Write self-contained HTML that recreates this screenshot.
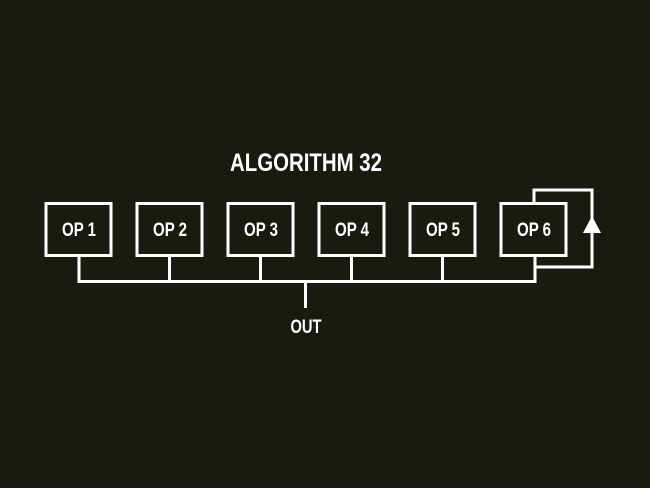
<!DOCTYPE html>
<html><head><style>
html,body{margin:0;padding:0;background:#1b1a11;}
svg{display:block}
text{font-family:"Liberation Sans",sans-serif;font-weight:bold;fill:#fff}
</style></head><body>
<svg width="650" height="488" viewBox="0 0 650 488" xmlns="http://www.w3.org/2000/svg">
<rect width="650" height="488" fill="#1b1a11"/>
<text x="306" y="171" font-size="25" text-anchor="middle" textLength="152" lengthAdjust="spacingAndGlyphs">ALGORITHM 32</text>
<g fill="none" stroke="#fff" stroke-width="3">
<rect x="46" y="203.5" width="65" height="52"/>
<rect x="137" y="203.5" width="65" height="52"/>
<rect x="228" y="203.5" width="65" height="52"/>
<rect x="319" y="203.5" width="65" height="52"/>
<rect x="410" y="203.5" width="65" height="52"/>
<rect x="501" y="203.5" width="65" height="52"/>
<polyline points="79,255 79,281.5 535,281.5 535,255"/>
<line x1="169.5" y1="255" x2="169.5" y2="281.5"/>
<line x1="260.5" y1="255" x2="260.5" y2="281.5"/>
<line x1="351.5" y1="255" x2="351.5" y2="281.5"/>
<line x1="442.5" y1="255" x2="442.5" y2="281.5"/>
<line x1="305.5" y1="281.5" x2="305.5" y2="308"/>
<polyline points="534,203.5 534,190 592,190 592,267 535,267"/>
</g>
<polygon points="592,216 583,233 601,233" fill="#fff"/>
<g font-size="19" text-anchor="middle">
<text x="79" y="236" textLength="34" lengthAdjust="spacingAndGlyphs">OP 1</text>
<text x="170" y="236" textLength="34" lengthAdjust="spacingAndGlyphs">OP 2</text>
<text x="261" y="236" textLength="34" lengthAdjust="spacingAndGlyphs">OP 3</text>
<text x="352" y="236" textLength="34" lengthAdjust="spacingAndGlyphs">OP 4</text>
<text x="443" y="236" textLength="34" lengthAdjust="spacingAndGlyphs">OP 5</text>
<text x="534" y="236" textLength="34" lengthAdjust="spacingAndGlyphs">OP 6</text>
<text x="306" y="333" textLength="31" lengthAdjust="spacingAndGlyphs">OUT</text>
</g>
</svg>
</body></html>
